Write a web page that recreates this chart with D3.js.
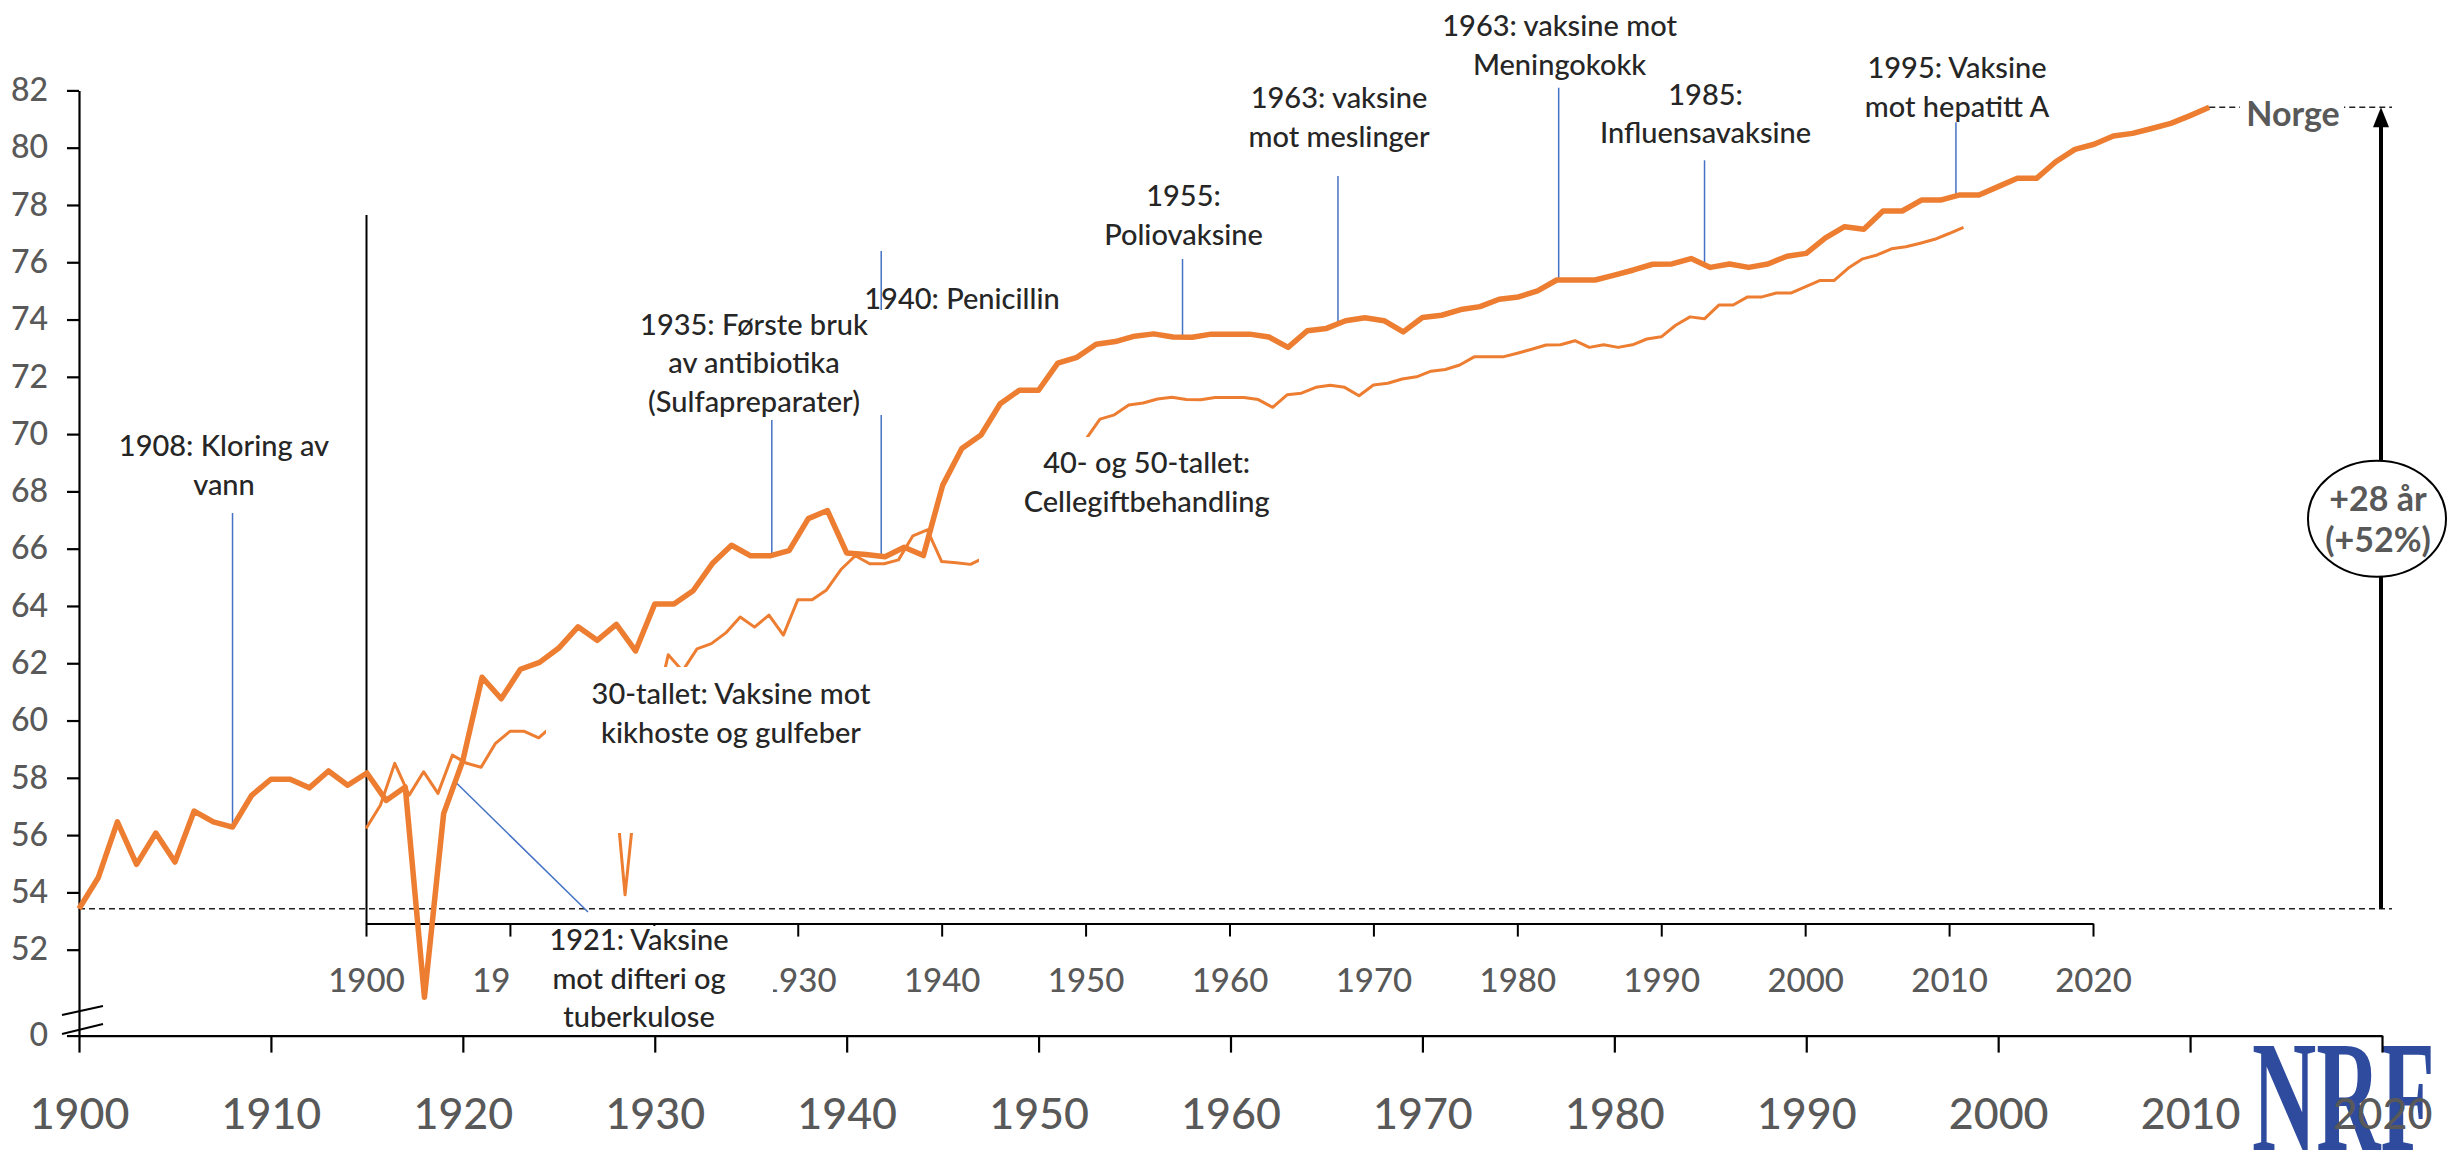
<!DOCTYPE html>
<html>
<head>
<meta charset="utf-8">
<script src="https://d3js.org/d3.v7.min.js"></script>
<style>
  body { margin: 0; background: #fff; }
  svg { display: block; font-family: Lato, "Open Sans", sans-serif; }
</style>
</head>
<body>
<svg width="2453" height="1159"></svg>
<script>
  // life expectancy at birth in Norway, 1900-2011
  var firstYear = 1900;
  var lifeExp = [
    53.43, 54.51, 56.46, 54.98, 56.07, 55.06, 56.84, 56.46, 56.28, 57.39,
    57.95, 57.95, 57.65, 58.24, 57.74, 58.17, 57.21, 57.68, 50.34, 56.75,
    58.60, 61.51, 60.76, 61.79, 62.03, 62.53, 63.27, 62.80, 63.36, 62.43,
    64.07, 64.07, 64.53, 65.48, 66.12, 65.75, 65.75, 65.93, 67.05, 67.33,
    65.85, 65.80, 65.72, 66.05, 65.76, 68.21, 69.50, 69.97, 71.06, 71.53,
    71.53, 72.48, 72.68, 73.14, 73.23, 73.42, 73.50, 73.39, 73.38, 73.49,
    73.49, 73.49, 73.39, 73.03, 73.61, 73.69, 73.96, 74.06, 73.96, 73.57,
    74.07, 74.15, 74.35, 74.45, 74.71, 74.79, 75.00, 75.38, 75.38, 75.38,
    75.55, 75.73, 75.93, 75.94, 76.13, 75.82, 75.94, 75.82, 75.94, 76.21,
    76.31, 76.85, 77.24, 77.15, 77.79, 77.79, 78.17, 78.17, 78.35, 78.35,
    78.64, 78.93, 78.93, 79.51, 79.94, 80.12, 80.41, 80.50, 80.67, 80.85,
    81.12, 81.41
  ];
  var years = lifeExp.map(function(d, i) { return firstYear + i; });

  var decadeTicks = d3.range(1900, 2021, 10);
  var yTicks = d3.range(52, 83, 2);
  var breakValue = 49; // axis is cut below here, bottom shown as "0"

  // text notes: lines, the year they point at on the main axis
  var notes = [
    { lines: ['1908: Kloring av', 'vann'], year: 1908.0 },
    { lines: ['1935: Første bruk', 'av antibiotika', '(Sulfapreparater)'], year: 1936.1 },
    { lines: ['1940: Penicillin'], year: 1941.8 },
    { lines: ['1955:', 'Poliovaksine'], year: 1957.5 },
    { lines: ['1963: vaksine', 'mot meslinger'], year: 1965.6 },
    { lines: ['1963: vaksine mot', 'Meningokokk'], year: 1977.1 },
    { lines: ['1985:', 'Influensavaksine'], year: 1984.7 },
    { lines: ['1995: Vaksine', 'mot hepatitt A'], year: 1997.8 }
  ];
  var boxNotes = [
    ['30-tallet: Vaksine mot', 'kikhoste og gulfeber'],
    ['40- og 50-tallet:', 'Cellegiftbehandling'],
    ['1921: Vaksine', 'mot difteri og', 'tuberkulose']
  ];
  var gainYears = 28, gainPct = 52;

  var data = years.map(function(y, i) { return { year: y, value: lifeExp[i] }; });

  var svg = d3.select('svg');
  var orange = '#ED7D31', blue = '#4472C4', grey = '#595959', ink = '#262626';

  // main chart
  var x = d3.scaleLinear().domain([1900, 2020]).range([79, 2382]);
  var y = d3.scaleLinear().domain([breakValue, 82]).range([1035.6, 90.4]);
  // the smaller copy of the same chart lying behind it
  var xIn = d3.scaleLinear().domain([1900, 2020]).range([366, 2093]);
  var yIn = d3.scaleLinear().domain([breakValue, 82]).range([923.6, 214.6]);

  function valueAt(yr) {
    var i = Math.min(Math.floor(yr - firstYear), lifeExp.length - 2);
    var t = yr - firstYear - i;
    return lifeExp[i] * (1 - t) + lifeExp[i + 1] * t;
  }

  // NRF logo, under the year labels
  svg.append('text')
    .attr('x', 2252).attr('y', 1150)
    .attr('textLength', 183).attr('lengthAdjust', 'spacingAndGlyphs')
    .style('font-family', '"Liberation Serif", serif')
    .style('font-weight', 'bold').style('font-size', '158px')
    .attr('fill', '#2E4B9E')
    .text('NRF');

  // dashed level of 1900
  svg.append('line')
    .attr('x1', x(1900)).attr('x2', 2392)
    .attr('y1', y(lifeExp[0])).attr('y2', y(lifeExp[0]))
    .attr('stroke', '#222').attr('stroke-width', 1.5)
    .attr('stroke-dasharray', '6,4');

  // inner chart axes
  var innerX = svg.append('g')
    .attr('transform', 'translate(0,' + yIn(breakValue) + ')')
    .call(d3.axisBottom(xIn).tickValues(decadeTicks).tickFormat(d3.format('d'))
      .tickSize(13).tickSizeOuter(0).tickPadding(32));
  innerX.selectAll('text').attr('fill', grey).style('font-size', '33px')
    .style('font-family', 'Lato').style('font-weight', 500);
  innerX.selectAll('path,line').attr('stroke', '#000').attr('stroke-width', 2);

  var innerY = svg.append('g')
    .attr('transform', 'translate(' + xIn(1900) + ',0)')
    .call(d3.axisLeft(yIn).tickValues([]).tickSizeOuter(0));
  innerY.selectAll('path').attr('stroke', '#000').attr('stroke-width', 2);

  // thin line
  var lineIn = d3.line().x(function(d) { return xIn(d.year); })
    .y(function(d) { return yIn(d.value); });
  svg.append('path').datum(data)
    .attr('d', lineIn)
    .attr('fill', 'none').attr('stroke', orange).attr('stroke-width', 3)
    .attr('stroke-linejoin', 'round');

  // connectors
  var noteLayout = [
    { cx: 224, cy: 446, top: 513 },
    { cx: 754, cy: 324.6, top: 420 },
    { cx: 962, cy: 299, top: 251 },
    { cx: 1183.5, cy: 196.4, top: 259 },
    { cx: 1339, cy: 98.2, top: 176 },
    { cx: 1559.6, cy: 26.3, top: 87.7 },
    { cx: 1705.6, cy: 94.7, top: 160.3 },
    { cx: 1957, cy: 68.1, top: 122.3 }
  ];
  svg.selectAll('line.conn')
    .data(notes)
    .enter()
    .append('line')
    .classed('conn', true)
    .attr('x1', function(d) { return x(d.year); })
    .attr('x2', function(d) { return x(d.year); })
    .attr('y1', function(d, i) { return noteLayout[i].top; })
    .attr('y2', function(d) { return y(valueAt(d.year)) - 2; })
    .attr('stroke', blue).attr('stroke-width', 1.5);

  // 1921 connector goes slanted
  svg.append('line')
    .attr('x1', x(1919.6)).attr('y1', y(valueAt(1919.6)))
    .attr('x2', 588).attr('y2', 912)
    .attr('stroke', blue).attr('stroke-width', 1.5);

  // white text boxes covering the back chart
  var boxes = [
    { x0: 546, x1: 885, y0: 667, y1: 833, cx: 731, cy: 694 },
    { x0: 979, x1: 1313, y0: 437, y1: 575, cx: 1146.7, cy: 463.3 },
    { x0: 513, x1: 773, y0: 926, y1: 1032, cx: 639, cy: 940 }
  ];
  svg.selectAll('rect.box')
    .data(boxes)
    .enter()
    .append('rect')
    .classed('box', true)
    .attr('x', function(d) { return d.x0; })
    .attr('y', function(d) { return d.y0; })
    .attr('width', function(d) { return d.x1 - d.x0; })
    .attr('height', function(d) { return d.y1 - d.y0; })
    .attr('fill', '#fff');
  // box behind the 1935 note
  svg.append('rect').attr('x', 628).attr('y', 310).attr('width', 258).attr('height', 105)
    .attr('fill', '#fff');

  // main axes
  var gx = svg.append('g')
    .attr('transform', 'translate(0,' + y(breakValue) + ')')
    .call(d3.axisBottom(x).tickValues(decadeTicks).tickFormat(d3.format('d'))
      .tickSize(17).tickSizeOuter(0).tickPadding(46));
  gx.selectAll('text').attr('fill', grey).style('font-size', '43px')
    .style('font-family', 'Lato').style('font-weight', 500);
  gx.selectAll('path,line').attr('stroke', '#000').attr('stroke-width', 2.2);

  var gy = svg.append('g')
    .attr('transform', 'translate(' + x(1900) + ',0)')
    .call(d3.axisLeft(y).tickValues([breakValue].concat(yTicks))
      .tickFormat(function(d) { return d === breakValue ? '0' : d; })
      .tickSize(12).tickSizeOuter(0).tickPadding(19));
  gy.selectAll('text').attr('fill', grey).style('font-size', '32px')
    .style('font-family', 'Lato').style('font-weight', 500);
  gy.selectAll('path,line').attr('stroke', '#000').attr('stroke-width', 2.2);

  // axis break marks
  svg.append('line').attr('x1', 62).attr('y1', 1015).attr('x2', 103).attr('y2', 1006)
    .attr('stroke', '#000').attr('stroke-width', 2);
  svg.append('line').attr('x1', 62).attr('y1', 1034).attr('x2', 103).attr('y2', 1024)
    .attr('stroke', '#000').attr('stroke-width', 2);

  // thick line
  var line = d3.line().x(function(d) { return x(d.year); })
    .y(function(d) { return y(d.value); });
  svg.append('path').datum(data)
    .attr('d', line)
    .attr('fill', 'none').attr('stroke', orange).attr('stroke-width', 5.5)
    .attr('stroke-linejoin', 'round');

  // note texts
  var lineGap = 38.5;
  function writeLines(lines, cx, cy) {
    var t = svg.append('text')
      .attr('text-anchor', 'middle')
      .attr('fill', ink).style('font-size', '29px').style('font-weight', 500);
    lines.forEach(function(s, i) {
      t.append('tspan').attr('x', cx).attr('y', cy + i * lineGap + 10).text(s);
    });
  }
  notes.forEach(function(d, i) {
    writeLines(d.lines, noteLayout[i].cx, noteLayout[i].cy);
  });
  boxNotes.forEach(function(lines, i) {
    writeLines(lines, boxes[i].cx, boxes[i].cy);
  });

  // Norge label with dashed line to the arrow
  var last = data[data.length - 1];
  svg.append('line')
    .attr('x1', x(last.year)).attr('x2', 2392)
    .attr('y1', y(last.value)).attr('y2', y(last.value))
    .attr('stroke', '#222').attr('stroke-width', 1.5)
    .attr('stroke-dasharray', '6,4');
  svg.append('rect').attr('x', 2240).attr('y', 92).attr('width', 104).attr('height', 44)
    .attr('fill', '#fff');
  svg.append('text')
    .attr('x', 2293).attr('y', 126)
    .attr('text-anchor', 'middle')
    .attr('fill', grey).style('font-size', '34px').style('font-weight', 'bold')
    .text('Norge');

  // arrow from 1900 level up to last value
  var ax = 2381;
  svg.append('line')
    .attr('x1', ax).attr('x2', ax)
    .attr('y1', y(lifeExp[0])).attr('y2', y(last.value) + 14)
    .attr('stroke', '#000').attr('stroke-width', 4);
  svg.append('path')
    .attr('d', 'M' + ax + ',' + y(last.value) + 'L' + (ax + 8) + ',' + (y(last.value) + 20) +
      'L' + (ax - 8) + ',' + (y(last.value) + 20) + 'Z')
    .attr('fill', '#000');

  svg.append('ellipse')
    .attr('cx', 2377).attr('cy', 518.7).attr('rx', 69).attr('ry', 58)
    .attr('fill', '#fff').attr('stroke', '#000').attr('stroke-width', 2);
  svg.append('text')
    .attr('x', 2378).attr('y', 511).attr('text-anchor', 'middle')
    .attr('fill', grey).style('font-size', '34px').style('font-weight', 'bold')
    .text('+' + gainYears + ' år');
  svg.append('text')
    .attr('x', 2378).attr('y', 552).attr('text-anchor', 'middle')
    .attr('fill', grey).style('font-size', '34px').style('font-weight', 'bold')
    .text('(+' + gainPct + '%)');
</script>
</body>
</html>
